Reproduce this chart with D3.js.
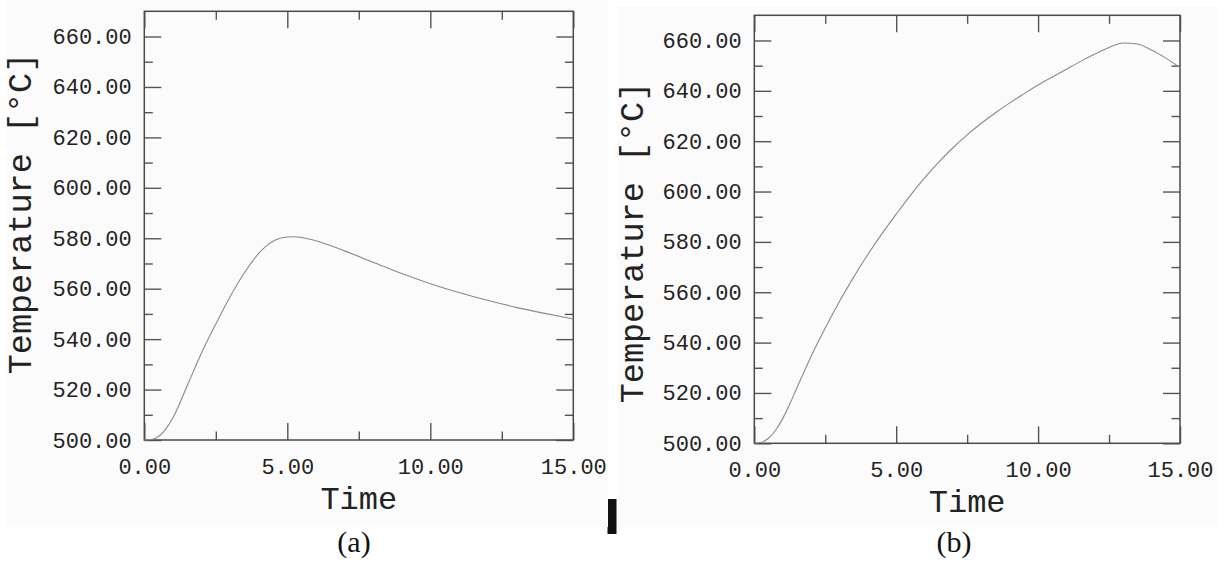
<!DOCTYPE html>
<html>
<head>
<meta charset="utf-8">
<script src="https://cdn.jsdelivr.net/npm/d3@7"></script>
<style>
  body { margin: 0; background: #fff; }
  svg { display: block; }
</style>
</head>
<body>
<svg width="1225" height="565"></svg>
<script>
// data
const timeA = [0, 0.25, 0.5, 0.75, 1, 1.5, 2, 2.5, 3, 3.5, 4, 4.25, 4.5, 4.75, 5, 5.25, 5.5, 6, 7, 8, 9, 10, 11, 12, 13, 14, 15];
const tempA = [500, 500.2, 501.4, 504.3, 508.8, 521.5, 534.5, 546, 556.8, 566.3, 574, 576.8, 578.8, 580, 580.5, 580.6, 580.3, 579, 575, 570.5, 566, 562, 558.5, 555.4, 552.6, 550.2, 548];

const timeB = [0, 0.25, 0.5, 0.75, 1, 1.25, 1.5, 2, 2.5, 3, 3.5, 4, 4.5, 5, 5.5, 6, 6.5, 7, 7.5, 8, 8.5, 9, 9.5, 10, 10.5, 11, 11.5, 12, 12.5, 13, 13.5, 14, 14.5, 15];
const tempB = [500, 500.4, 502, 505.2, 509.8, 515.6, 522, 534.5, 545.8, 556.3, 566, 575, 583.3, 591, 598.5, 605.4, 611.7, 617.4, 622.5, 627.1, 631.3, 635.2, 638.8, 642.3, 645.5, 648.6, 651.7, 654.6, 657.2, 659, 658.6, 656.2, 653, 649.3];

const xMajor = [0, 5, 10, 15];
const xMinor = [2.5, 7.5, 12.5];
const yMajor = [500, 520, 540, 560, 580, 600, 620, 640, 660];
const yMinor = [510, 530, 550, 570, 590, 610, 630, 650];

const xTitle = "Time";
const yTitle = "Temperature [°C]";

const svg = d3.select("svg");

const panels = [
  { t: timeA, v: tempA, cap: "(a)", left: 144.3, right: 573.3, top: 11.3, bottom: 440,
    bg: [7, 0, 601, 527], ytx: 31, yty: 213.5, capx: 354, capy: 552 },
  { t: timeB, v: tempB, cap: "(b)", left: 754.3, right: 1180, top: 15.3, bottom: 443.3,
    bg: [617, 6, 600, 521], ytx: 643, yty: 242.5, capx: 954, capy: 552 }
];

// little black mark between the two figures
svg.append("rect").attr("x", 607.5).attr("y", 499).attr("width", 9).attr("height", 35).style("fill", "#111");

panels.forEach(p => {
  svg.append("rect")
    .attr("x", p.bg[0]).attr("y", p.bg[1]).attr("width", p.bg[2]).attr("height", p.bg[3])
    .style("fill", "#fbfbfb");

  const x = d3.scaleLinear().domain([0, 15]).range([p.left, p.right]);
  const y = d3.scaleLinear().domain([500, 670]).range([p.bottom, p.top]);

  const mono = "'Liberation Mono', 'DejaVu Sans Mono', monospace";

  // major + minor ticks on all four sides, all pointing inward
  const axes = [
    [d3.axisBottom(x).tickValues(xMajor).tickSize(-17).tickPadding(18).tickFormat(d3.format(".2f")), `translate(0,${p.bottom})`],
    [d3.axisBottom(x).tickValues(xMinor).tickSize(-8.5).tickFormat(""), `translate(0,${p.bottom})`],
    [d3.axisTop(x).tickValues(xMajor).tickSize(-17).tickFormat(""), `translate(0,${p.top})`],
    [d3.axisTop(x).tickValues(xMinor).tickSize(-8.5).tickFormat(""), `translate(0,${p.top})`],
    [d3.axisLeft(y).tickValues(yMajor).tickSize(-17).tickPadding(12.6).tickFormat(d3.format(".2f")), `translate(${p.left},0)`],
    [d3.axisLeft(y).tickValues(yMinor).tickSize(-8.5).tickFormat(""), `translate(${p.left},0)`],
    [d3.axisRight(y).tickValues(yMajor).tickSize(-17).tickFormat(""), `translate(${p.right},0)`],
    [d3.axisRight(y).tickValues(yMinor).tickSize(-8.5).tickFormat(""), `translate(${p.right},0)`]
  ];
  axes.forEach(([ax, tr]) => {
    const g = svg.append("g").attr("transform", tr).call(ax);
    g.select(".domain").remove();
    g.selectAll("line").style("stroke", "#555").style("stroke-width", 1.4);
    g.selectAll("text")
      .style("font-family", mono)
      .style("font-size", "22px")
      .style("fill", "#222");
  });

  // frame
  svg.append("rect")
    .attr("x", p.left).attr("y", p.top)
    .attr("width", p.right - p.left).attr("height", p.bottom - p.top)
    .style("fill", "none").style("stroke", "#4a4a4a").style("stroke-width", 1.5);

  const line = d3.line()
    .x((d, i) => x(p.t[i]))
    .y(d => y(d))
    .curve(d3.curveMonotoneX);

  svg.append("path")
    .datum(p.v)
    .attr("d", line)
    .style("fill", "none")
    .style("stroke", "#8a8a8a")
    .style("stroke-width", 1.1);

  // axis titles
  svg.append("text")
    .text(xTitle)
    .attr("x", (p.left + p.right) / 2)
    .attr("y", p.bottom + 69)
    .attr("text-anchor", "middle")
    .style("font-family", mono)
    .style("font-size", "32px")
    .style("fill", "#222");

  svg.append("text")
    .text(yTitle)
    .attr("transform", `translate(${p.ytx},${p.yty}) rotate(-90)`)
    .attr("text-anchor", "middle")
    .style("font-family", mono)
    .style("font-size", "33.5px")
    .style("fill", "#222");

  svg.append("text")
    .text(p.cap)
    .attr("x", p.capx)
    .attr("y", p.capy)
    .attr("text-anchor", "middle")
    .style("font-family", "'Liberation Serif', 'Times New Roman', serif")
    .style("font-size", "30px")
    .style("fill", "#111");
});
</script>
</body>
</html>
